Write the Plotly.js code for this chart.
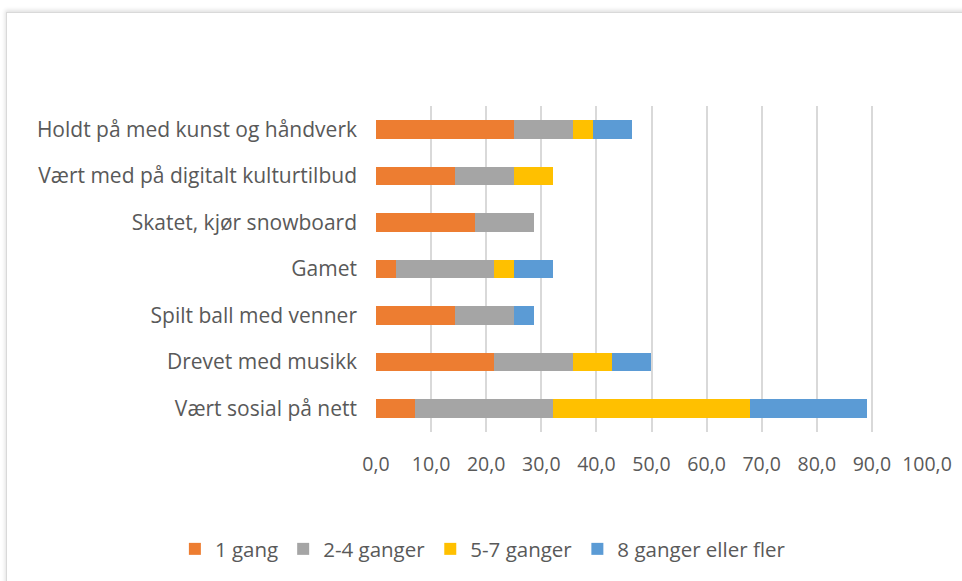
<!DOCTYPE html>
<html>
<head>
<meta charset="utf-8">
<script src="https://cdn.plot.ly/plotly-3.0.1.min.js"></script>
<style>
  html, body { margin: 0; padding: 0; background: #ffffff; }
  #chart { position: absolute; left: 0; top: 0; width: 962px; height: 581px; }
  #frame { position: absolute; left: 6px; top: 12px; width: 970px; height: 600px;
           border-top: 1px solid #d9d9d9; border-left: 1px solid #d9d9d9;
           box-shadow: -1px -2px 4px rgba(0,0,0,0.12); pointer-events: none; }
</style>
</head>
<body>
<div id="frame"></div>
<div id="chart"></div>
<script>
// Categories (bottom to top as drawn)
const categories = [
  "Vært sosial på nett",
  "Drevet med musikk",
  "Spilt ball med venner",
  "Gamet",
  "Skatet, kjør snowboard",
  "Vært med på digitalt kulturtilbud",
  "Holdt på med kunst og håndverk"
];
const seriesNames = ["1 gang", "2-4 ganger", "5-7 ganger", "8 ganger eller fler"];
const gang1    = [7.1, 21.4, 14.3, 3.6, 17.9, 14.3, 25.0];
const ganger24 = [25.0, 14.3, 10.7, 17.9, 10.7, 10.7, 10.7];
const ganger57 = [35.7, 7.1, 0, 3.6, 0, 7.1, 3.6];
const ganger8  = [21.4, 7.1, 3.6, 7.1, 0, 0, 7.1];
const colors = ["#ED7D31", "#A5A5A5", "#FFC000", "#5B9BD5"];
const tickVals = [0, 10, 20, 30, 40, 50, 60, 70, 80, 90, 100];

const seriesValues = [gang1, ganger24, ganger57, ganger8];
const traces = seriesValues.map((vals, i) => ({
  type: "bar",
  orientation: "h",
  name: seriesNames[i],
  y: categories,
  x: vals,
  marker: { color: colors[i], line: { width: 0 } },
  hoverinfo: "x+name"
}));

const font = "'Open Sans', 'Liberation Sans', Arial, sans-serif";
const layout = {
  width: 962,
  height: 581,
  barmode: "stack",
  bargap: 0.6,
  separators: ", ",
  paper_bgcolor: "rgba(0,0,0,0)",
  plot_bgcolor: "rgba(0,0,0,0)",
  margin: { l: 376, r: 35, t: 106, b: 149 },
  font: { family: font, color: "#595959", size: 19 },
  xaxis: {
    range: [0, 100],
    tickvals: tickVals,
    tickformat: ".1f",
    showgrid: true,
    gridcolor: "#d9d9d9",
    gridwidth: 2,
    zeroline: false,
    showline: false,
    ticks: "",
    ticklabelstandoff: 18,
    tickfont: { family: font, size: 19.5, color: "#595959" },
    fixedrange: true
  },
  yaxis: {
    categoryorder: "array",
    categoryarray: categories,
    showgrid: false,
    zeroline: false,
    showline: false,
    ticks: "",
    ticklabelstandoff: 18,
    tickfont: { family: font, size: 21, color: "#595959" },
    fixedrange: true
  },
  showlegend: true,
  legend: {
    orientation: "h",
    xref: "paper",
    yref: "paper",
    x: -0.365,
    xanchor: "left",
    y: -0.359,
    yanchor: "middle",
    traceorder: "normal",
    font: { family: font, size: 20.5, color: "#595959" },
    bgcolor: "rgba(0,0,0,0)"
  }
};

Plotly.newPlot("chart", traces, layout, { displayModeBar: false, staticPlot: true });
</script>
</body>
</html>
